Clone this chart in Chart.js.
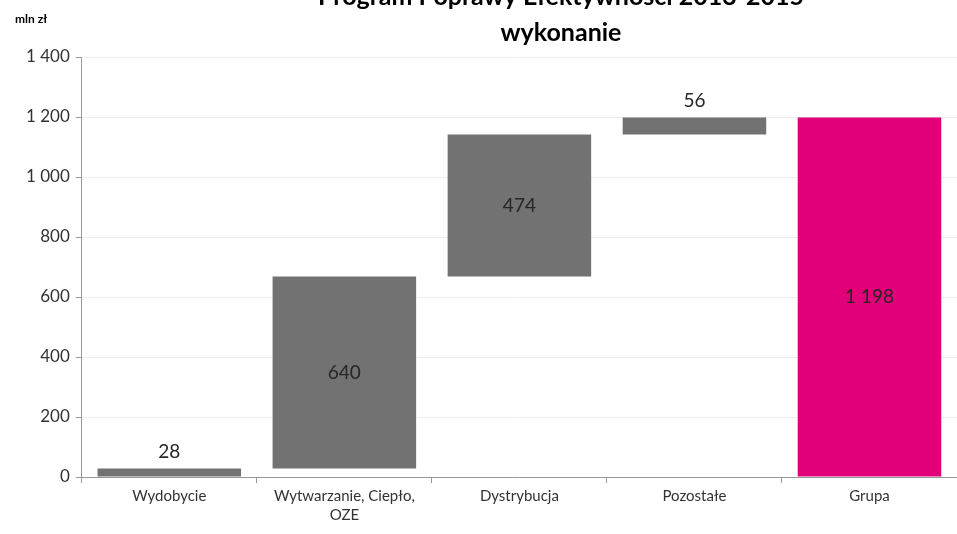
<!DOCTYPE html>
<html>
<head>
<meta charset="utf-8">
<script src="https://cdn.jsdelivr.net/npm/chart.js@4"></script>
<style>
html,body{margin:0;padding:0;background:#fff;}
#wrap{width:957px;height:534px;position:relative;}
</style>
</head>
<body>
<div id="wrap"><canvas id="c" width="957" height="534"></canvas></div>
<script>
const categories = ["Wydobycie", ["Wytwarzanie, Ciepło,", "OZE"], "Dystrybucja", "Pozostałe", "Grupa"];
const barStarts = [0, 28, 668, 1142, 0];
const barEnds = [28, 668, 1142, 1198, 1198];
const valueLabels = ["28", "640", "474", "56", "1 198"];
const labelAbove = [true, false, false, true, false];
const barColors = ["#727272", "#727272", "#727272", "#727272", "#E2007A"];
const yTicks = [0, 200, 400, 600, 800, 1000, 1200, 1400];
const titleLines = ["Program Poprawy Efektywności 2013-2015", "wykonanie"];
const unitLabel = "mln zł";

const FONT = "Lato, 'Open Sans', sans-serif";

const overlay = {
  id: 'overlay',
  afterDatasetsDraw(chart) {
    const ctx = chart.ctx;
    const meta = chart.getDatasetMeta(0);
    ctx.save();
    ctx.font = "19px " + FONT;
    ctx.fillStyle = "#262626";
    ctx.textAlign = "center";
    meta.data.forEach((bar, i) => {
      const p = bar.getProps(['x', 'y', 'base'], true);
      const top = Math.min(p.y, p.base), bot = Math.max(p.y, p.base);
      let y;
      if (labelAbove[i]) { ctx.textBaseline = "bottom"; y = top - 7; }
      else { ctx.textBaseline = "middle"; y = (top + bot) / 2; }
      ctx.fillText(valueLabels[i], p.x, y);
    });
    // titles
    ctx.font = "bold 25px " + FONT;
    ctx.fillStyle = "#000";
    ctx.textBaseline = "alphabetic";
    ctx.fillText(titleLines[0], 561, 5);
    ctx.fillText(titleLines[1], 561, 41);
    ctx.font = "bold 12px " + FONT;
    ctx.textAlign = "left";
    ctx.textBaseline = "middle";
    ctx.fillText(unitLabel, 15, 19);
    ctx.restore();
  }
};

new Chart(document.getElementById('c'), {
  type: 'bar',
  data: {
    labels: categories,
    datasets: [{
      data: barStarts.map((s, i) => [s, barEnds[i]]),
      backgroundColor: barColors,
      borderWidth: 0,
      barPercentage: 0.82,
      categoryPercentage: 1.0
    }]
  },
  options: {
    responsive: false,
    animation: false,
    devicePixelRatio: 1,
    layout: { padding: { top: 57, left: 20, right: 0, bottom: 6 } },
    plugins: { legend: { display: false }, tooltip: { enabled: false }, title: { display: false } },
    scales: {
      x: {
        grid: { display: true, drawOnChartArea: false, offset: true, tickLength: 6, tickColor: "#999", color: "#999" },
        border: { color: "#999" },
        ticks: { font: { family: FONT, size: 15, lineHeight: 1.3 }, color: "#333", maxRotation: 0, autoSkip: false, padding: 3 }
      },
      y: {
        min: 0, max: 1400,
        afterBuildTicks(axis) { axis.ticks = yTicks.map(v => ({ value: v })); },
        grid: { color: "#ececec", tickLength: 6, tickColor: "#999" },
        border: { color: "#999" },
        ticks: {
          font: { family: FONT, size: 17 }, color: "#333", padding: 6,
          callback: v => String(v).replace(/\B(?=(\d{3})+(?!\d))/g, " ")
        }
      }
    }
  },
  plugins: [overlay]
});
</script>
</body>
</html>
